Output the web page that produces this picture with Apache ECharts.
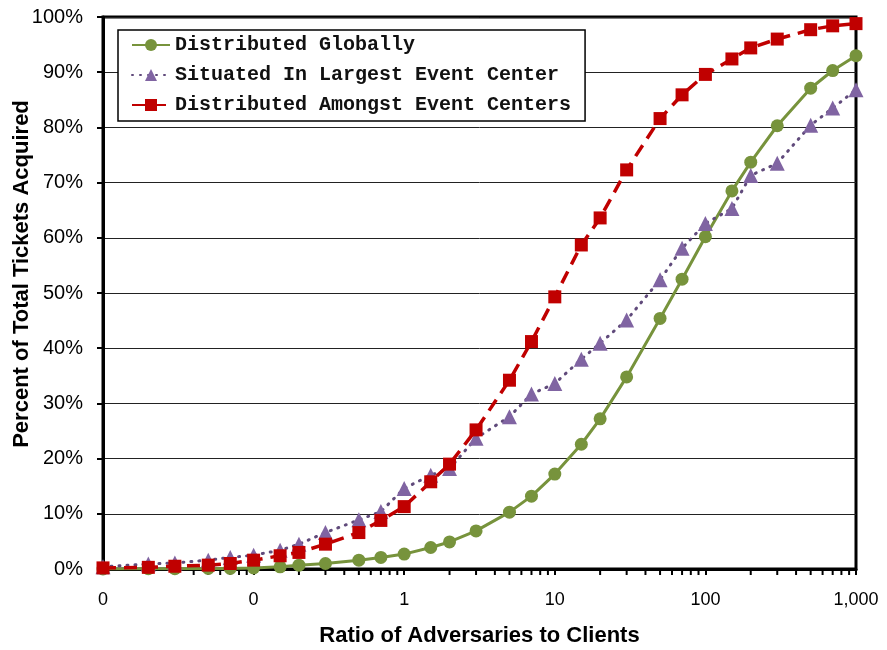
<!DOCTYPE html>
<html><head><meta charset="utf-8">
<script src="https://cdn.jsdelivr.net/npm/echarts@6/dist/echarts.min.js"></script>
<style>html,body{margin:0;padding:0;background:#fff}#c{width:887px;height:650px}</style>
</head><body><div id="c"></div>
<script>
const ratios = [0.01,0.02,0.03,0.05,0.07,0.1,0.15,0.2,0.3,0.5,0.7,1,1.5,2,3,5,7,10,15,20,30,50,70,100,150,200,300,500,700,1000];
const globally = [0,0.05,0.05,0.1,0.1,0.2,0.4,0.7,1.0,1.6,2.1,2.7,3.9,4.9,6.9,10.3,13.2,17.2,22.6,27.2,34.8,45.4,52.5,60.2,68.5,73.7,80.3,87.1,90.3,93.0];
const largestCenter = [0.4,0.9,1.1,1.6,2.1,2.5,3.4,4.5,6.6,8.9,10.4,14.6,17.0,18.2,23.7,27.6,31.7,33.6,38.0,40.9,45.1,52.4,58.1,62.6,65.3,71.3,73.5,80.4,83.5,86.8];
const amongstCenters = [0.2,0.3,0.5,0.7,1.0,1.6,2.4,3.0,4.5,6.6,8.8,11.3,15.8,19.0,25.2,34.2,41.2,49.3,58.7,63.6,72.3,81.6,85.9,89.6,92.4,94.4,96.0,97.7,98.4,98.8];
const seriesNames = ['Distributed Globally','Situated In Largest Event Center','Distributed Amongst Event Centers'];
const minorTickValues = [];
[0.01,0.1,1,10,100].forEach(d => { for (let k = 2; k <= 9; k++) minorTickValues.push(+(d*k).toPrecision(3)); });

const sans = "'Liberation Sans',Arial,sans-serif";
const chart = echarts.init(document.getElementById('c'));
const pair = (xs, ys) => xs.map((x, i) => [x, ys[i]]);
chart.setOption({
  animation: false,
  backgroundColor: '#fff',
  grid: { left: 103, right: 31, top: 17, bottom: 81, containLabel: false, outerBoundsMode: 'none',
    show: true, borderColor: '#000', borderWidth: 3, backgroundColor: 'transparent' },
  legend: {
    data: seriesNames, orient: 'vertical', left: 118, top: 30,
    backgroundColor: '#fff', borderColor: '#000', borderWidth: 1.5,
    padding: [5, 14, 6, 13], itemGap: 10, itemWidth: 38, itemHeight: 15,
    textStyle: { fontFamily: "'Liberation Mono','Courier New',monospace", fontWeight: 'bold', fontSize: 20, color: '#111' }
  },
  xAxis: {
    type: 'log', logBase: 10, min: 0.01, max: 1000,
    name: 'Ratio of Adversaries to Clients', nameLocation: 'middle', nameGap: 56, nameMoveOverlap: false,
    nameTextStyle: { fontFamily: sans, fontWeight: 'bold', fontSize: 22, color: '#000' },
    axisLine: { lineStyle: { color: '#000', width: 3 } },
    axisTick: { show: true, length: 6, lineStyle: { color: '#000', width: 2 } },
    axisLabel: { margin: 22, fontFamily: sans, fontSize: 18, color: '#000',
      formatter: v => v < 1 ? '0' : Math.round(v).toLocaleString('en-US') },
    splitLine: { show: false }
  },
  yAxis: {
    type: 'value', min: 0, max: 100, interval: 10,
    name: 'Percent of Total Tickets Acquired', nameLocation: 'middle', nameGap: 70, nameMoveOverlap: false,
    nameTextStyle: { fontFamily: sans, fontWeight: 'bold', fontSize: 22, color: '#000', padding: [0, 0, 0, 38] },
    axisLine: { show: true, lineStyle: { color: '#000', width: 3 } },
    axisTick: { show: true, length: 6, lineStyle: { color: '#000', width: 2 } },
    axisLabel: { margin: 20, fontFamily: sans, fontSize: 20, color: '#000', formatter: '{value}%' },
    splitLine: { show: true, lineStyle: { color: '#222', width: 1 } }
  },
  series: [
    { type: 'custom', silent: true, clip: false, z: 1,
      data: minorTickValues.map(v => [v, 0]),
      renderItem: (params, api) => {
        const p = api.coord([api.value(0), 0]);
        return { type: 'line', shape: { x1: p[0], y1: p[1], x2: p[0], y2: p[1] + 6 }, style: { stroke: '#000', lineWidth: 2 } };
      } },
    { name: seriesNames[0], type: 'line', data: pair(ratios, globally), symbol: 'circle', symbolSize: 13,
      itemStyle: { color: '#77933C' }, lineStyle: { color: '#77933C', width: 3 }, z: 3 },
    { name: seriesNames[1], type: 'line', data: pair(ratios, largestCenter), symbol: 'triangle', symbolSize: 15,
      itemStyle: { color: '#8064A2' }, lineStyle: { color: '#604A7B', width: 3, type: [1, 7], cap: 'round' }, z: 4 },
    { name: seriesNames[2], type: 'line', data: pair(ratios, amongstCenters), symbol: 'rect', symbolSize: 13,
      itemStyle: { color: '#C00000' }, lineStyle: { color: '#C00000', width: 3.5, type: [13, 8] }, z: 5 }
  ]
});
</script></body></html>
